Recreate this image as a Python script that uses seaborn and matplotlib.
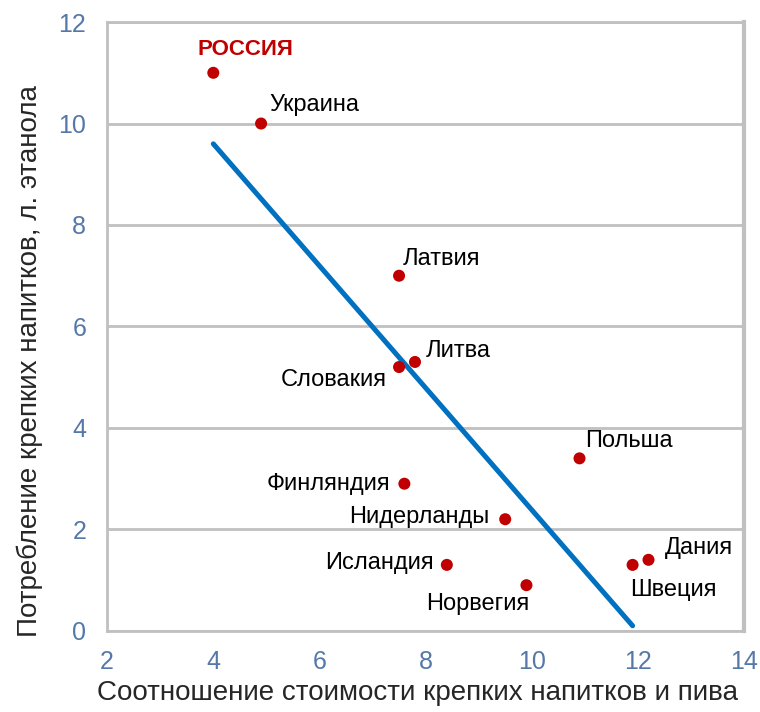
import matplotlib.pyplot as plt
import seaborn as sns
import pandas as pd

countries = ['РОССИЯ', 'Украина', 'Латвия', 'Литва', 'Словакия', 'Польша',
             'Финляндия', 'Нидерланды', 'Исландия', 'Норвегия', 'Швеция', 'Дания']
price_ratio = [4.0, 4.9, 7.5, 7.8, 7.5, 10.9, 7.6, 9.5, 8.4, 9.9, 11.9, 12.2]
consumption = [11.0, 10.0, 7.0, 5.3, 5.2, 3.4, 2.9, 2.2, 1.3, 0.9, 1.3, 1.4]

trend_x = [4.0, 11.9]
trend_y = [9.6, 0.1]

x_ticks = [2, 4, 6, 8, 10, 12, 14]
y_ticks = [0, 2, 4, 6, 8, 10, 12]

# label placement: (dx, dy) in pixels, horizontal alignment
label_pos = {
    'РОССИЯ': (32, 23, 'center'),
    'Украина': (8, 19, 'left'),
    'Латвия': (4, 17, 'left'),
    'Литва': (11, 11, 'left'),
    'Словакия': (-12, -13, 'right'),
    'Польша': (6, 17, 'left'),
    'Финляндия': (-14, 0, 'right'),
    'Нидерланды': (-16, 2, 'right'),
    'Исландия': (-13, 2, 'right'),
    'Норвегия': (3, -19, 'right'),
    'Швеция': (-2, -25, 'left'),
    'Дания': (16, 12, 'left'),
}

df = pd.DataFrame({'country': countries, 'x': price_ratio, 'y': consumption})
trend = pd.DataFrame({'x': trend_x, 'y': trend_y})

sns.set_style("white")
plt.rcParams['font.family'] = ['Liberation Sans', 'DejaVu Sans']

fig = plt.figure(figsize=(7.6, 7.12), dpi=100)
ax = fig.add_axes([0.141, 0.114, 0.838, 0.855])

grid_col = '#c0c0c0'
ax.set_xlim(2, 14)
ax.set_ylim(0, 12)
ax.set_xticks(x_ticks)
ax.set_yticks(y_ticks)
ax.yaxis.grid(True, color=grid_col, linewidth=2)
ax.xaxis.grid(False)
ax.set_axisbelow(True)
for s in ax.spines.values():
    s.set_color(grid_col)
    s.set_linewidth(2)
ax.spines['right'].set_linewidth(3)

ax.tick_params(axis='both', which='major', length=5, width=2, color=grid_col,
               labelcolor='#5578a8', labelsize=18, direction='out')
ax.tick_params(axis='x', pad=9)
ax.tick_params(axis='y', pad=10)

sns.lineplot(data=trend, x='x', y='y', color='#0070c0', linewidth=3.6, ax=ax)
sns.scatterplot(data=df, x='x', y='y', color='#c00000', s=75, edgecolor='none', ax=ax, zorder=3)

for c, xv, yv in zip(countries, price_ratio, consumption):
    dx, dy, ha = label_pos[c]
    if c == 'РОССИЯ':
        ax.annotate(c, (xv, yv), xytext=(dx, dy), textcoords='offset pixels',
                    ha=ha, va='center', fontsize=16, color='#c00000', fontweight='bold')
    else:
        ax.annotate(c, (xv, yv), xytext=(dx, dy), textcoords='offset pixels',
                    ha=ha, va='center', fontsize=17, color='black')

ax.set_xlabel('Соотношение стоимости крепких напитков и пива', fontsize=20)
ax.set_ylabel('Потребление крепких напитков, л. этанола', fontsize=20)
ax.xaxis.set_label_coords(0.487, -0.08)
ax.yaxis.set_label_coords(-0.1, 0.443)

fig.savefig('out.png', dpi=100)
